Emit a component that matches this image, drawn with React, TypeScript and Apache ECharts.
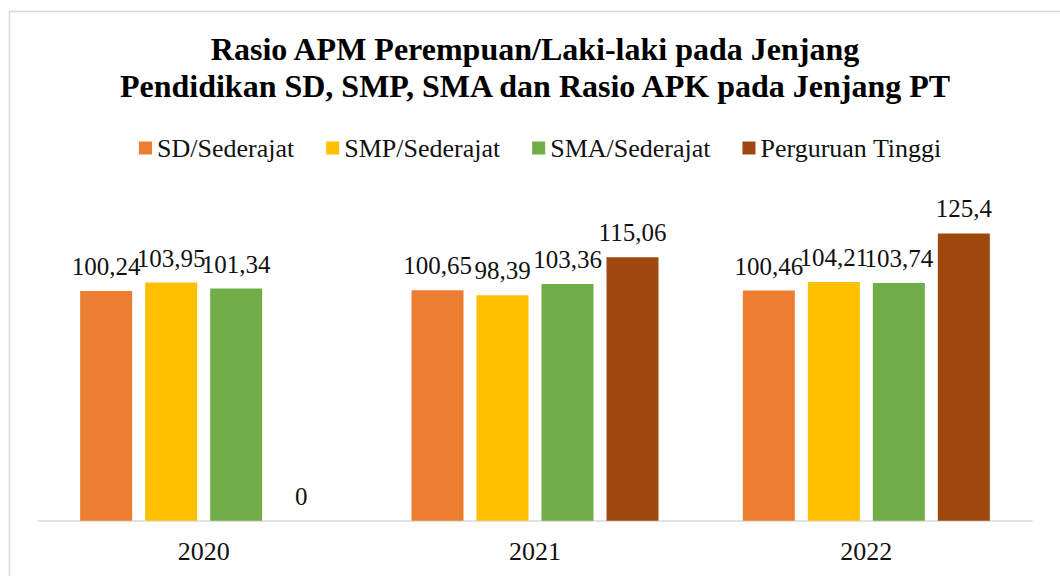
import React, { useEffect, useRef } from "react";
import * as echarts from "echarts";

const years = ["2020", "2021", "2022"];
const seriesNames = ["SD/Sederajat", "SMP/Sederajat", "SMA/Sederajat", "Perguruan Tinggi"];
const sdValues = [100.24, 100.65, 100.46];
const smpValues = [103.95, 98.39, 104.21];
const smaValues = [101.34, 103.36, 103.74];
const ptValues = [0, 115.06, 125.4];
const colors = ["#ED7D31", "#FFC000", "#70AD47", "#9E480E"];
const titleText = "Rasio APM Perempuan/Laki-laki pada Jenjang\nPendidikan SD, SMP, SMA dan Rasio APK pada Jenjang PT";

const FONT = "'Liberation Serif', 'DejaVu Serif', serif";

export default function App() {
  const ref = useRef<HTMLDivElement>(null);
  useEffect(() => {
    if (!ref.current) return;
    const chart = echarts.init(ref.current, undefined, { renderer: "svg" });
    const allValues = [sdValues, smpValues, smaValues, ptValues];
    chart.setOption({
      animation: false,
      backgroundColor: "#ffffff",
      title: {
        text: titleText,
        left: 535,
        textAlign: "center",
        top: 30,
        padding: 0,
        textStyle: {
          fontFamily: FONT,
          fontWeight: "bold",
          fontSize: 32,
          lineHeight: 37,
          color: "#000",
        },
      },
      legend: {
        data: seriesNames,
        left: 139,
        top: 135,
        padding: 0,
        icon: "rect",
        itemWidth: 13,
        itemHeight: 13,
        itemGap: 32,
        textStyle: { fontFamily: FONT, fontSize: 26, color: "#111" },
      },
      graphic: [
        {
          type: "rect",
          shape: { x: 9.5, y: 11.5, width: 1060, height: 600 },
          style: { fill: "none", stroke: "#d9d9d9", lineWidth: 1.5 },
          silent: true,
          z: -1,
        },
      ],
      grid: { left: 38, right: 28, top: 200, bottom: 55.3, containLabel: false },
      xAxis: {
        type: "category",
        data: years,
        axisLine: { lineStyle: { color: "#d9d9d9", width: 1.5 } },
        axisTick: { show: false },
        axisLabel: { fontFamily: FONT, fontSize: 26, color: "#111", margin: 18 },
      },
      yAxis: {
        type: "value",
        min: 0,
        max: 140,
        interval: 20,
        show: false,
        splitLine: { show: false },
      },
      series: seriesNames.map((name, i) => ({
        name,
        type: "bar",
        data: allValues[i],
        barWidth: 52,
        barGap: "25%",
        itemStyle: { color: colors[i] },
        label: {
          show: true,
          position: "top",
          distance: 12,
          fontFamily: FONT,
          fontSize: 25,
          color: "#111",
          formatter: (p: any) => String(p.value).replace(".", ","),
        },
      })),
    });
    return () => chart.dispose();
  }, []);
  return (
    <div
      ref={ref}
      style={{ position: "fixed", left: 0, top: 0, width: 1060, height: 576 }}
    />
  );
}
